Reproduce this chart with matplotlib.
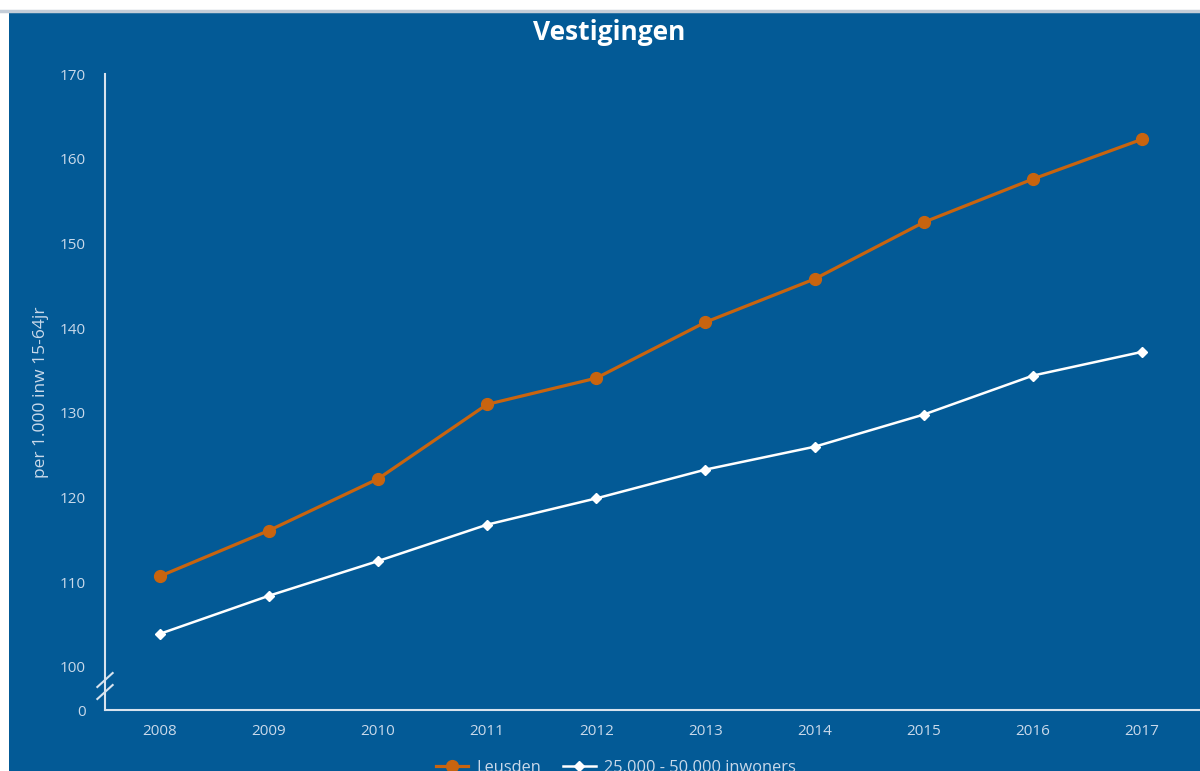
import numpy as np
import matplotlib
matplotlib.use('Agg')
import matplotlib.pyplot as plt
from matplotlib.patches import Rectangle
from matplotlib.lines import Line2D

# Data
years = [2008, 2009, 2010, 2011, 2012, 2013, 2014, 2015, 2016, 2017]
leusden = [110.7, 116.1, 122.2, 131.0, 134.1, 140.7, 145.8, 152.5, 157.6, 162.3]
klasse = [103.9, 108.4, 112.5, 116.8, 119.9, 123.3, 126.0, 129.8, 134.4, 137.2]
yticks = [0, 100, 110, 120, 130, 140, 150, 160, 170]

bg = '#035a96'
orange = '#c8640f'
txt = '#c9d9ea'

plt.rcParams['font.family'] = ['Open Sans', 'DejaVu Sans']

fig = plt.figure(figsize=(12, 7.71), dpi=100)
fig.patch.set_facecolor('white')
# blue panel and grey top line
fig.add_artist(Rectangle((9 / 1200, 0), 1, (771 - 13) / 771, transform=fig.transFigure,
                         facecolor=bg, edgecolor='none', zorder=0))
fig.add_artist(Line2D([0, 1], [(771 - 11) / 771] * 2, transform=fig.transFigure,
                      color='#c4cdd8', lw=2.5, zorder=0))

ax = fig.add_axes([105 / 1200, 61 / 771, 1 - 105 / 1200, 636 / 771])
ax.set_facecolor('none')


# broken axis: compress 0-100 into a small gap
def fwd(y):
    y = np.asarray(y, dtype=float)
    return np.where(y >= 100, y, 94.92 + y * 0.0508)


def inv(y):
    y = np.asarray(y, dtype=float)
    return np.where(y >= 100, y, (y - 94.92) / 0.0508)


ax.set_yscale('function', functions=(fwd, inv))
ax.set_ylim(0, 170)
ax.set_xlim(2007.5, 2017.53)

ax.plot(years, leusden, color=orange, lw=2.3, marker='o', ms=8.5,
        label='Leusden', zorder=3)
ax.plot(years, klasse, color='white', lw=1.8, marker='D', ms=5.5,
        label='25.000 - 50.000 inwoners', zorder=3)

ax.set_yticks(yticks)
ax.set_yticklabels([str(t) for t in yticks])
ax.set_xticks(years)
ax.set_xticklabels([str(y) for y in years])
ax.tick_params(axis='y', length=0, pad=14, labelsize=11, labelcolor=txt)
ax.tick_params(axis='x', length=0, pad=10, labelsize=11, labelcolor=txt)

for s in ['top', 'right']:
    ax.spines[s].set_visible(False)
for s in ['left', 'bottom']:
    ax.spines[s].set_color('#d8e3ee')
    ax.spines[s].set_linewidth(1.5)

# break marks on the y axis
for yb in [680, 692]:
    yy = (771 - yb - 61) / 636
    ax.plot([-0.007, 0.007], [yy - 0.011, yy + 0.011], transform=ax.transAxes,
            color='#d8e3ee', lw=1.5, clip_on=False, zorder=4)

ax.set_ylabel('per 1.000 inw 15-64jr', color=txt, fontsize=12.5)
ax.yaxis.set_label_coords(-0.051, 0.50)

fig.text(0.508, (771 - 32) / 771, 'Vestigingen', color='white', fontsize=19,
         fontweight='bold', ha='center', va='center')

fig.legend(loc='center', bbox_to_anchor=(0.513, (771 - 768) / 771), ncol=2,
           frameon=False, fontsize=11.8, labelcolor=txt, handlelength=2,
           columnspacing=1.3, handletextpad=0.5)

fig.savefig('out.png', dpi=100, facecolor=fig.get_facecolor())
